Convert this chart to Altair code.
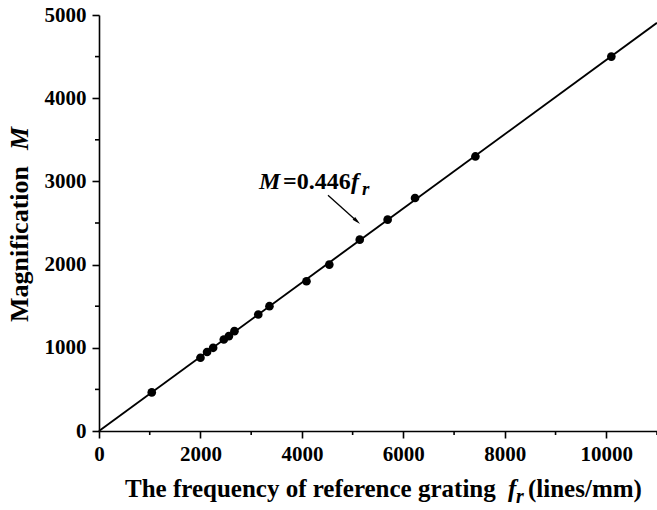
import altair as alt
import pandas as pd

# measured data
fr = [1040, 2000, 2130, 2250, 2460, 2560, 2670, 3140, 3360, 4090, 4540, 5140, 5690, 6230, 7420, 10100]
mag = [464, 880, 950, 1000, 1100, 1140, 1200, 1400, 1500, 1800, 2000, 2300, 2540, 2800, 3300, 4500]

# fitted line M = 0.446 f_r
fit_x = [0, 11000]
fit_y = [0, 4906]

x_major = [0, 2000, 4000, 6000, 8000, 10000]
x_minor = [1000, 3000, 5000, 7000, 9000, 11000]
y_major = [0, 1000, 2000, 3000, 4000, 5000]
y_minor = [500, 1500, 2500, 3500, 4500]

# annotation anchor (data units)
ann_x = [3154]
ann_y = [2906]
arrow_x = [4514]
arrow_y = [2834]
arrow_x2 = [5086]
arrow_y2 = [2522]

FONT = "Liberation Serif"
W, H = 558, 416

pts = pd.DataFrame({"fr": fr, "M": mag})
fit = pd.DataFrame({"fr": fit_x, "M": fit_y})
ann = pd.DataFrame({"fr": ann_x, "M": ann_y})
arr = pd.DataFrame({"fr": arrow_x, "M": arrow_y, "fr2": arrow_x2, "M2": arrow_y2})
xmin_df = pd.DataFrame({"fr": x_minor})
ymin_df = pd.DataFrame({"M": y_minor})

xscale = alt.Scale(domain=[0, 11000], nice=False, zero=False)
yscale = alt.Scale(domain=[0, 5000], nice=False, zero=False)

xaxis = alt.Axis(values=x_major, format="d", title=None, grid=False, ticks=True,
                 tickSize=7, labelPadding=5, labelFlush=False, labelOverlap=False)
yaxis = alt.Axis(values=y_major, format="d", title=None, grid=False, ticks=True,
                 tickSize=7, labelPadding=6, labelFlush=False, labelOverlap=False)

line = alt.Chart(fit).mark_line(color="black", strokeWidth=1.9).encode(
    x=alt.X("fr:Q", scale=xscale, axis=xaxis),
    y=alt.Y("M:Q", scale=yscale, axis=yaxis),
)

points = alt.Chart(pts).mark_point(filled=True, color="black", size=75, opacity=1).encode(
    x=alt.X("fr:Q", scale=xscale),
    y=alt.Y("M:Q", scale=yscale),
)

# minor ticks
xminor = alt.Chart(xmin_df).mark_rule(color="black", strokeWidth=1.6).encode(
    x=alt.X("fr:Q", scale=xscale), y=alt.value(H), y2=alt.value(H + 4),
)
yminor = alt.Chart(ymin_df).mark_rule(color="black", strokeWidth=1.6).encode(
    y=alt.Y("M:Q", scale=yscale), x=alt.value(-4), x2=alt.value(0),
)

def ann_text(txt, dx, dy, style, size):
    return alt.Chart(ann).mark_text(
        text=txt, align="left", baseline="alphabetic", dx=dx, dy=dy,
        font=FONT, fontWeight="bold", fontStyle=style, fontSize=size, color="black"
    ).encode(x=alt.X("fr:Q", scale=xscale), y=alt.Y("M:Q", scale=yscale))

a1 = ann_text("M", 0, 0, "italic", 24)
a2 = ann_text("=0.446", 24, 0, "normal", 24)
a3 = ann_text("f", 92, 0, "italic", 24)
a4 = ann_text("r", 103, 6, "italic", 19)

arrow_line = alt.Chart(arr).mark_rule(color="black", strokeWidth=1.3).encode(
    x=alt.X("fr:Q", scale=xscale), y=alt.Y("M:Q", scale=yscale),
    x2="fr2:Q", y2="M2:Q",
)
arrow_head = alt.Chart(arr).mark_point(
    shape="M0,-1L0.45,1L-0.45,1Z", filled=True, color="black", size=70, angle=132, opacity=1
).encode(x=alt.X("fr2:Q", scale=xscale), y=alt.Y("M2:Q", scale=yscale))

one = pd.DataFrame({"k": [0]})

def free_text(txt, x, y, style, size, angle=0):
    kw = dict(text=txt, align="left", baseline="alphabetic", font=FONT, fontWeight="bold",
              fontStyle=style, fontSize=size, color="black")
    if angle:
        kw["angle"] = angle
    return alt.Chart(one).mark_text(**kw).encode(x=alt.value(x), y=alt.value(y))

yt1 = free_text("Magnification", -71, 307, "normal", 26, 270)
yt2 = free_text("M", -71, 135, "italic", 26, 270)
xt1 = free_text("The frequency of reference grating", 26, 482, "normal", 25)
xt2 = free_text("f", 409, 482, "italic", 25)
xt3 = free_text("r", 417, 488, "italic", 20)
xt4 = free_text("(lines/mm)", 429, 482, "normal", 25)

chart = alt.layer(line, points, xminor, yminor, arrow_line, arrow_head, a1, a2, a3, a4,
                  yt1, yt2, xt1, xt2, xt3, xt4).properties(
    width=W, height=H,
    autosize=alt.AutoSizeParams(type="none"),
    padding={"left": 99, "top": 15, "right": 0, "bottom": 79},
    background="white",
).configure_view(stroke=None).configure_axis(
    labelFont=FONT, labelFontWeight="bold", labelFontSize=21, labelColor="black",
    domainColor="black", tickColor="black", domainWidth=1.6, tickWidth=1.6,
)

chart.save("out.html", embed_options={"renderer": "svg", "actions": False})
